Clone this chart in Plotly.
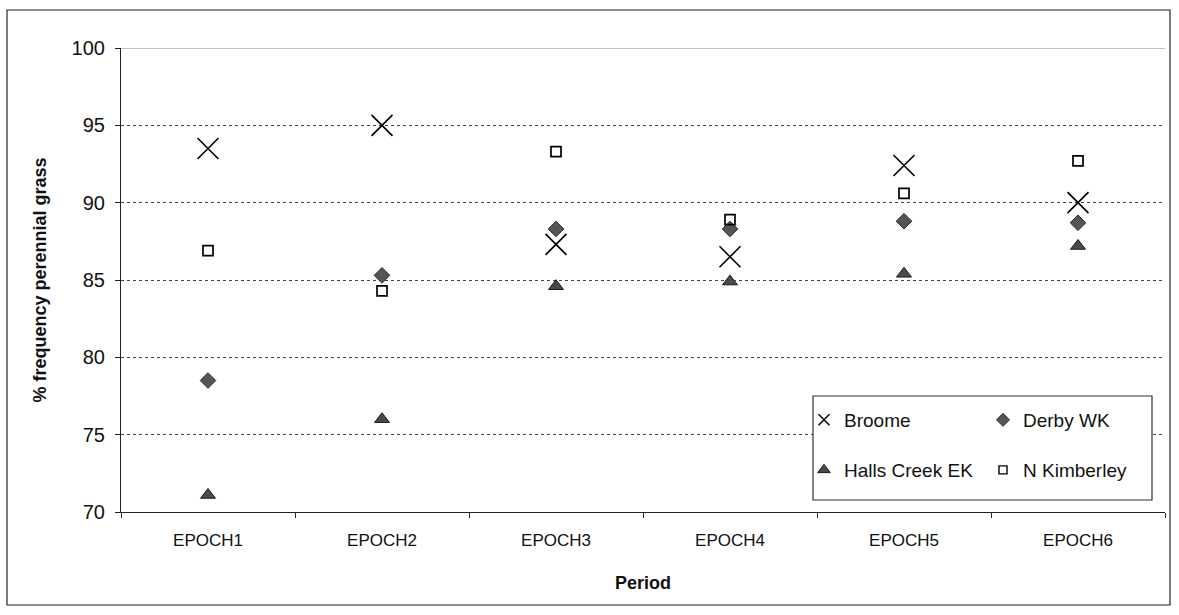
import plotly.graph_objects as go

periods = ["EPOCH1", "EPOCH2", "EPOCH3", "EPOCH4", "EPOCH5", "EPOCH6"]
broome = [93.5, 95.0, 87.3, 86.5, 92.4, 90.0]
derby_wk = [78.5, 85.3, 88.3, 88.3, 88.8, 88.7]
halls_creek_ek = [71.1, 76.0, 84.6, 84.9, 85.4, 87.2]
n_kimberley = [86.9, 84.3, 93.3, 88.9, 90.6, 92.7]

W, H = 1179, 615
L, R, T, B = 121, 14, 48, 103
pw, ph = W - L - R, H - T - B

def px_x(x):
    return (x - L) / pw

def px_y(y):
    return (H - B - y) / ph

series = [
    ("Broome", broome, "legend",
     dict(symbol="x-thin-open", size=21, color="black", line=dict(width=1.6, color="black")),
     dict(symbol="x-thin-open", size=11, color="black", line=dict(width=1.4, color="black"))),
    ("Derby WK", derby_wk, "legend",
     dict(symbol="diamond", size=12, color="#555555", line=dict(width=1, color="#2a2a2a")),
     dict(symbol="diamond", size=10, color="#555555", line=dict(width=1, color="#2a2a2a"))),
    ("Halls Creek EK", halls_creek_ek, "legend2",
     dict(symbol="triangle-up", size=13, color="#4a4a4a", line=dict(width=1, color="#1a1a1a")),
     dict(symbol="triangle-up", size=11, color="#4a4a4a", line=dict(width=1, color="#1a1a1a"))),
    ("N Kimberley", n_kimberley, "legend2",
     dict(symbol="square-open", size=10, color="black", line=dict(width=1.7, color="black")),
     dict(symbol="square-open", size=8, color="black", line=dict(width=1.4, color="black"))),
]

fig = go.Figure()
for name, vals, leg, mk, lmk in series:
    fig.add_trace(go.Scatter(x=periods, y=vals, name=name, mode="markers",
                             marker=mk, showlegend=False, legendgroup=name))
    fig.add_trace(go.Scatter(x=[None], y=[None], name=name, mode="markers",
                             marker=lmk, showlegend=True, legend=leg, legendgroup=name))

font = "Liberation Sans, Arial, sans-serif"
leg_common = dict(orientation="h", entrywidth=134, entrywidthmode="pixels",
                  font=dict(family=font, size=19, color="#111"),
                  bgcolor="rgba(0,0,0,0)", itemsizing="trace",
                  xanchor="left", yanchor="middle")

fig.update_layout(
    width=W, height=H,
    margin=dict(l=L, r=R, t=T, b=B, autoexpand=False),
    paper_bgcolor="white", plot_bgcolor="white",
    font=dict(family=font, color="#111"),
    showlegend=True,
    legend=dict(x=px_x(804), y=px_y(420), **leg_common),
    legend2=dict(x=px_x(804), y=px_y(470), **leg_common),
    xaxis=dict(
        type="category", tickson="boundaries", ticks="outside", ticklen=5,
        tickcolor="#222", showline=True, linecolor="#222", linewidth=1.2,
        showgrid=False, tickfont=dict(size=17, family=font), ticklabelstandoff=12,
        title=dict(text="<b>Period</b>", font=dict(size=18, family=font), standoff=27),
        range=[-0.5, 5.5],
    ),
    yaxis=dict(
        range=[70, 100], dtick=5, ticks="outside", ticklen=5, tickcolor="#222",
        showline=True, linecolor="#222", linewidth=1.2,
        showgrid=True, gridcolor="#444", griddash="dot", gridwidth=1,
        tickfont=dict(size=20, family=font), ticklabelstandoff=6,
        title=dict(text="<b>% frequency perennial grass</b>", font=dict(size=18, family=font), standoff=20),
        zeroline=False,
    ),
    shapes=[
        dict(type="rect", xref="paper", yref="paper",
             x0=px_x(7), x1=px_x(1170), y0=px_y(605), y1=px_y(10),
             line=dict(color="#222", width=1.2), fillcolor="rgba(0,0,0,0)", layer="below"),
        dict(type="line", xref="paper", yref="y", x0=0, x1=1, y0=100, y1=100,
             line=dict(color="#888", width=1), layer="below"),
        dict(type="rect", xref="paper", yref="paper",
             x0=px_x(813), x1=px_x(1152), y0=px_y(500), y1=px_y(396),
             line=dict(color="#333", width=1.2), fillcolor="white", layer="above"),
    ],
)

fig.write_html("out.html")
